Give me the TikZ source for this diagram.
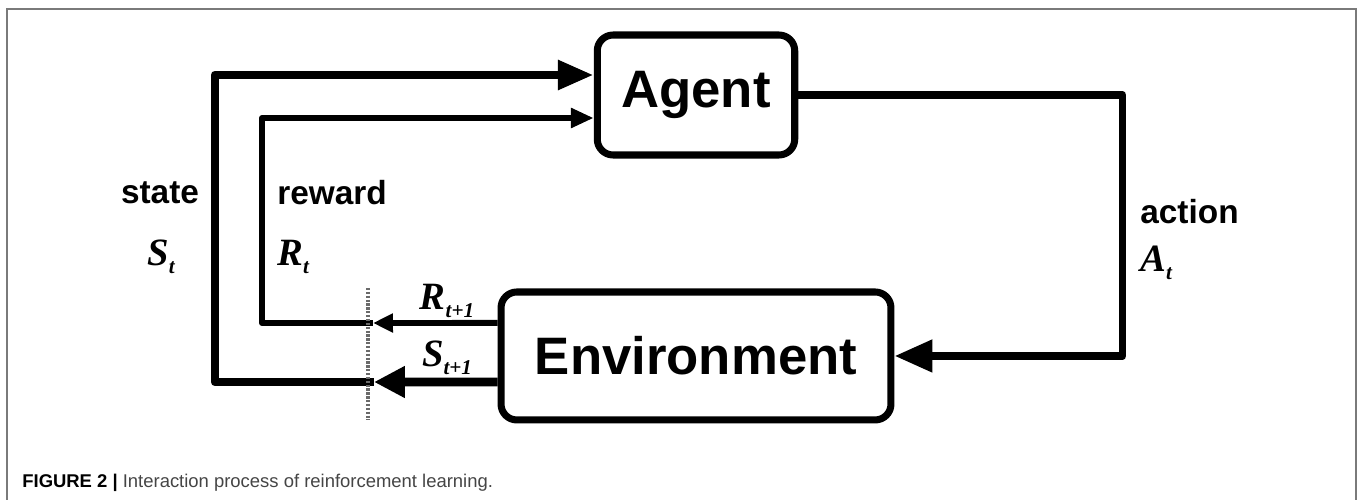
\documentclass[tikz,border=0pt]{standalone}
\usepackage{fontspec}
\setmainfont{Liberation Sans}
\newfontfamily\seriffont{Liberation Serif}
\usepackage{xcolor}
\usetikzlibrary{arrows.meta}
\usetikzlibrary{positioning}
\usetikzlibrary{calc}
\definecolor{framegray}{HTML}{7A7A7A}
\definecolor{captiongray}{HTML}{454545}
\definecolor{dashgray}{HTML}{6A6A6A}
\tikzstyle{blockbox} = [draw=black, fill=white, line width=4pt,
rectangle, rounded corners=9pt, font=\fontsize{30}{36}\selectfont\bfseries]
\tikzstyle{wordlabel} = [inner sep=0pt, font=\fontsize{19}{23}\selectfont\bfseries]
\tikzstyle{varlabel} = [inner sep=0pt, font=\fontsize{22}{26}\selectfont]
\tikzstyle{statewire} = [line width=5pt, line join=round]
\tikzstyle{rewardwire} = [line width=3.4pt, line join=round]
\tikzstyle{actionwire} = [line width=4.5pt, line join=round]
\newcommand{\varlbl}[2]{{\seriffont\bfseries\itshape #1\raisebox{-0.45ex}{\fontsize{12}{14}\selectfont #2}}}

\begin{document}
\begin{tikzpicture}[x=0.02cm, y=-0.02cm]
        \useasboundingbox (0,0) rectangle (1360,500);
        % outer frame, open at the bottom
        \draw[framegray, line width=1.1pt] (7,500) -- (7,9) -- (1356,9) -- (1356,500);

        \node [blockbox, minimum width=3.95cm, minimum height=2.4cm] (agent) at (696,95) {Agent};
        \node [blockbox, minimum width=7.8cm, minimum height=2.56cm, below=2.6cm of agent] (env) {Environment};

        \coordinate (sgap) at (374,382);
        \coordinate (rgap) at (373,323);

        % state loop
        \draw[statewire, -{Triangle[length=0.62cm,width=0.6cm]}] ($(env.west)+(0,26)$) -- (sgap);
        \draw[statewire, -{Triangle[length=0.72cm,width=0.56cm]}] (sgap) -- (215,382) -- (215,75) -- ($(agent.west)+(0,-20)$);
        % reward loop
        \draw[rewardwire, -{Triangle[length=0.4cm,width=0.36cm]}] ($(env.west)+(0,-33)$) -- (rgap);
        \draw[rewardwire, -{Triangle[length=0.46cm,width=0.38cm]}] (rgap) -- (262,323) -- (262,118) -- ($(agent.west)+(0,23)$);
        % action
        \draw[actionwire, -{Triangle[length=0.76cm,width=0.62cm]}] (agent.east) -| ($(env.east)+(228,0)$) -- (env.east);

        % time step boundary
        \draw[dashgray, line width=2.6pt, dash pattern=on 1.3pt off 0.9pt] (368,288) -- (368,420);

        \node[wordlabel] (statelbl) at (160,193) {state};
        \node[varlabel] (stvar) at (161,257) {\varlbl{S}{t}};
        \node[wordlabel, anchor=west] (rewardlbl) at (277,193) {reward};
        \node[varlabel, anchor=west] (rtvar) at (277,257) {\varlbl{R}{t}};
        \node[wordlabel, anchor=west] (actionlbl) at (1140,212) {action};
        \node[varlabel, anchor=west] (atvar) at (1140,263) {\varlbl{A}{t}};
        \node[varlabel] (rnext) at (447,301) {\varlbl{R}{t+1}};
        \node[varlabel] (snext) at (447,358) {\varlbl{S}{t+1}};

        \node[anchor=base west, inner sep=0pt, font=\fontsize{10.5}{12}\selectfont] (caption) at (22,487)
            {\textbf{FIGURE 2 |} \textcolor{captiongray}{Interaction process of reinforcement learning.}};
    \end{tikzpicture}
\end{document}
